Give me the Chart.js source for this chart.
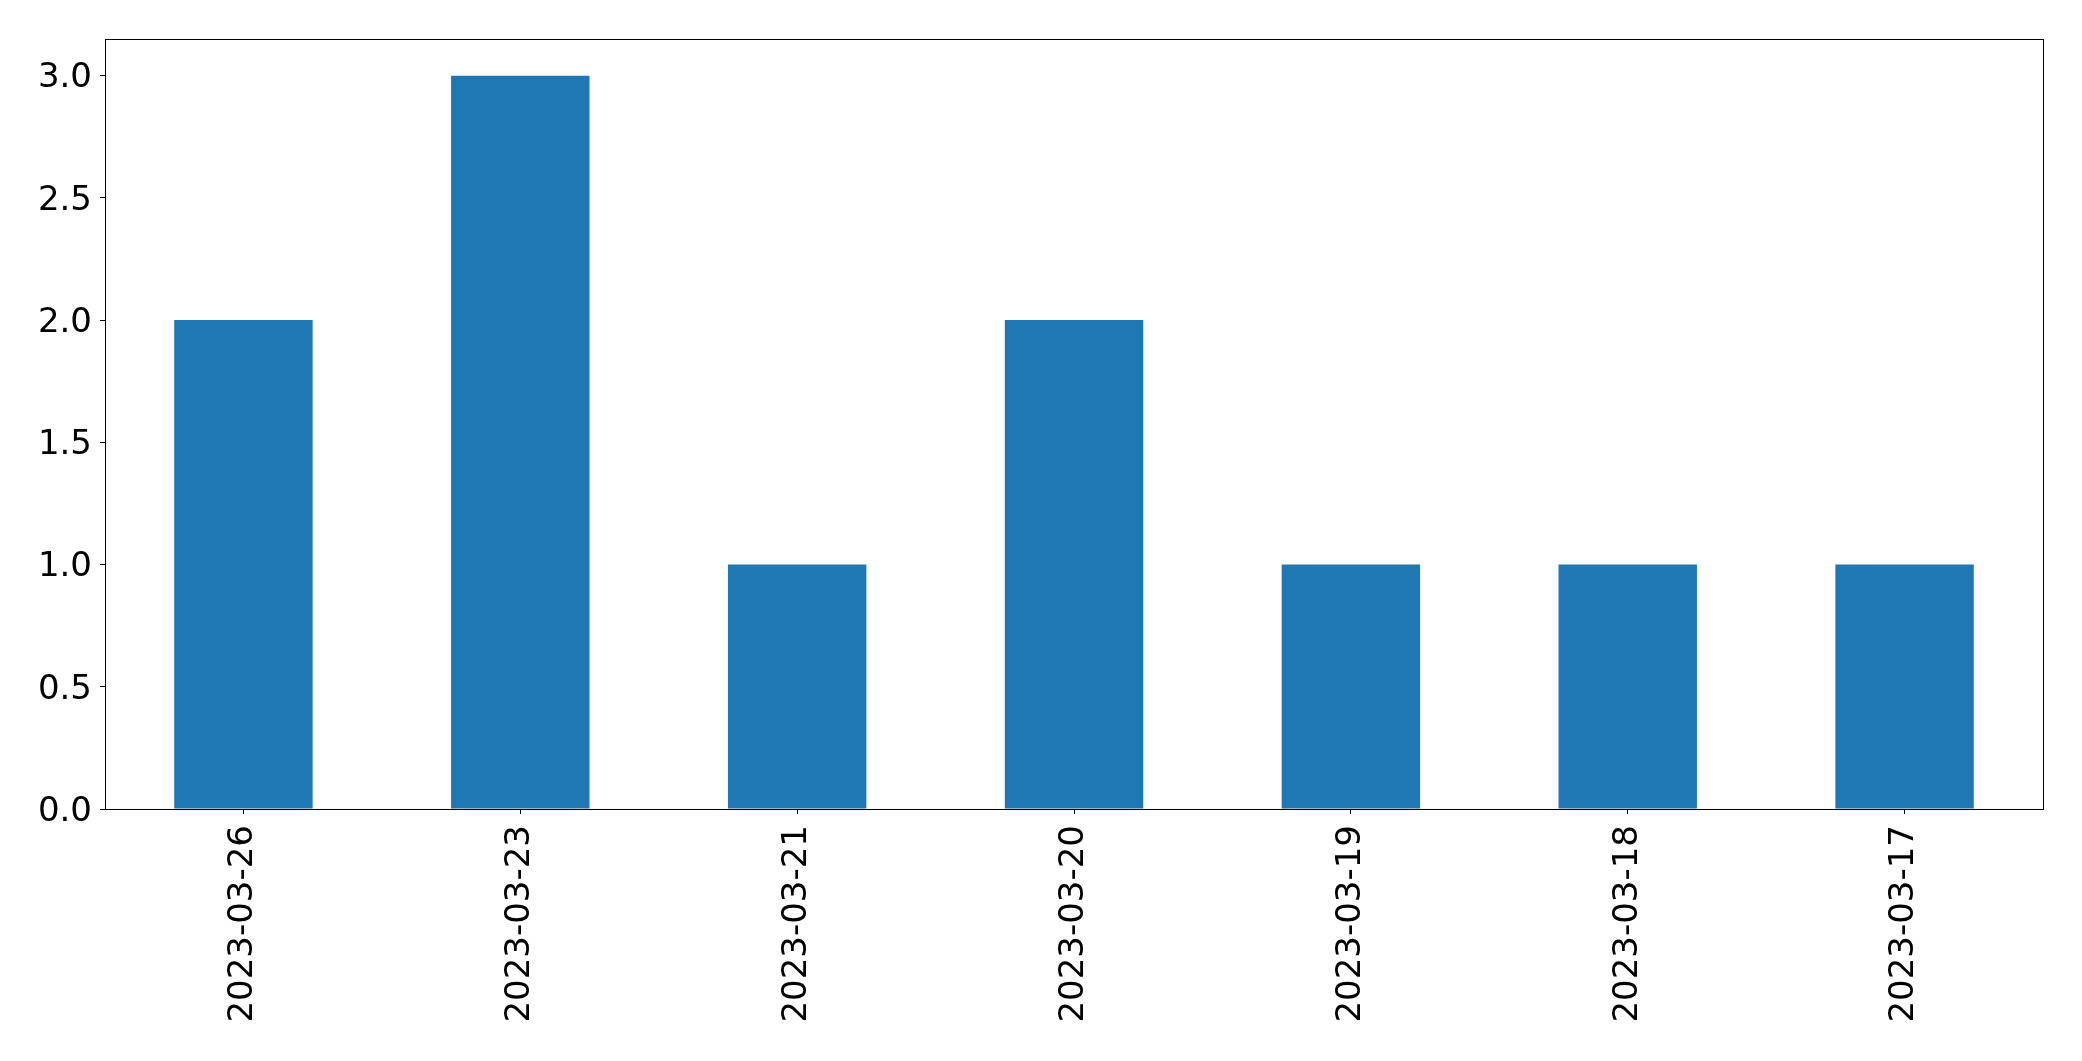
<!DOCTYPE html>
<html>
<head>
<meta charset="utf-8">
<script src="https://cdn.jsdelivr.net/npm/chart.js@4"></script>
<style>
  html, body { margin: 0; padding: 0; background: #ffffff; }
  #wrap { width: 2082px; height: 1061px; }
</style>
</head>
<body>
<div id="wrap"><canvas id="c" width="2082" height="1061"></canvas></div>
<script>
const categories = ["2023-03-26", "2023-03-23", "2023-03-21", "2023-03-20", "2023-03-19", "2023-03-18", "2023-03-17"];
const counts = [2, 3, 1, 2, 1, 1, 1];
const yTicks = [0, 0.5, 1.0, 1.5, 2.0, 2.5, 3.0];

const FONT = "'DejaVu Sans', sans-serif";

const framePlugin = {
  id: 'frame',
  afterDraw(chart) {
    const a = chart.chartArea;
    const ctx = chart.ctx;
    ctx.save();
    ctx.strokeStyle = '#000000';
    ctx.lineWidth = 1;
    ctx.strokeRect(Math.round(a.left) + 0.5, Math.round(a.top) + 0.5,
                   Math.round(a.right - a.left), Math.round(a.bottom - a.top));
    ctx.restore();
  }
};

new Chart(document.getElementById('c'), {
  type: 'bar',
  data: {
    labels: categories,
    datasets: [{
      data: counts,
      backgroundColor: '#1f77b4',
      borderWidth: 0,
      categoryPercentage: 1.0,
      barPercentage: 0.5
    }]
  },
  options: {
    responsive: false,
    animation: false,
    devicePixelRatio: 1,
    layout: { padding: { left: 0, right: 39, top: 39, bottom: 0 } },
    plugins: { legend: { display: false }, tooltip: { enabled: false } },
    scales: {
      x: {
        offset: true,
        grid: { offset: false, drawOnChartArea: false, drawTicks: true, tickLength: 5, color: '#000000' },
        border: { display: true, color: '#000000', width: 1 },
        ticks: {
          autoSkip: false, minRotation: 90, maxRotation: 90, padding: 11,
          color: '#000000', font: { family: FONT, size: 34 }
        },
        afterFit(scale) { scale.height = 252; }
      },
      y: {
        min: 0, max: 3.15,
        grid: { drawOnChartArea: false, drawTicks: true, tickLength: 5, color: '#000000' },
        border: { display: true, color: '#000000', width: 1 },
        ticks: {
          includeBounds: false, padding: 8, labelOffset: 3, color: '#000000',
          font: { family: FONT, size: 34 },
          callback: (v) => Number(v).toFixed(1)
        },
        afterBuildTicks(scale) { scale.ticks = yTicks.map(v => ({ value: v })); },
        afterFit(scale) { scale.width = 105; }
      }
    }
  },
  plugins: [framePlugin]
});
</script>
</body>
</html>
